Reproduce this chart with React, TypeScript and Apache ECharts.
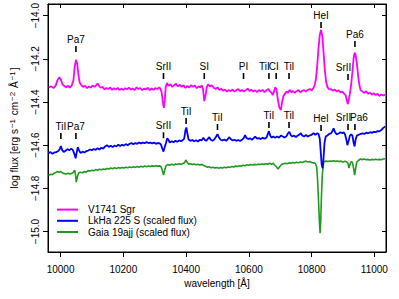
import React, { useEffect, useRef } from "react";
import * as echarts from "echarts";

const xTicks = [10000, 10200, 10400, 10600, 10800, 11000];
const yTicks = [-15.0, -14.8, -14.6, -14.4, -14.2, -14.0];

const seriesNames = ["V1741 Sgr", "LkHa 225 S (scaled flux)", "Gaia 19ajj (scaled flux)"];

const v1741: [number, number][] = [
  [9962, -14.332], [9970, -14.328], [9978, -14.335], [9985, -14.322], [9990, -14.300], [9996, -14.285],
  [10001, -14.296], [10006, -14.318], [10012, -14.326], [10018, -14.332], [10024, -14.325], [10030, -14.334],
  [10036, -14.322], [10041, -14.300], [10045, -14.240], [10049, -14.205], [10053, -14.222], [10057, -14.275],
  [10061, -14.310], [10066, -14.322], [10072, -14.330], [10078, -14.325], [10084, -14.336], [10090, -14.328],
  [10096, -14.333], [10102, -14.324], [10108, -14.330], [10114, -14.322], [10118, -14.314], [10122, -14.324],
  [10128, -14.334], [10134, -14.330], [10140, -14.342], [10146, -14.335], [10152, -14.340], [10158, -14.333],
  [10164, -14.344], [10170, -14.336], [10176, -14.342], [10182, -14.335], [10188, -14.345], [10194, -14.338],
  [10200, -14.344], [10206, -14.336], [10212, -14.341], [10218, -14.334], [10224, -14.343], [10230, -14.337],
  [10236, -14.345], [10242, -14.332], [10248, -14.340], [10254, -14.336], [10260, -14.345], [10266, -14.338],
  [10272, -14.342], [10278, -14.334], [10284, -14.346], [10290, -14.337], [10296, -14.343], [10302, -14.336],
  [10308, -14.340], [10314, -14.332], [10318, -14.338], [10322, -14.355], [10326, -14.400], [10329, -14.427],
  [10332, -14.395], [10335, -14.330], [10339, -14.312], [10344, -14.325], [10350, -14.318], [10356, -14.330],
  [10362, -14.322], [10368, -14.316], [10374, -14.328], [10380, -14.320], [10386, -14.330], [10392, -14.322],
  [10398, -14.335], [10404, -14.326], [10410, -14.333], [10416, -14.322], [10422, -14.330], [10428, -14.324],
  [10434, -14.336], [10440, -14.328], [10446, -14.332], [10450, -14.322], [10454, -14.340], [10458, -14.396],
  [10462, -14.370], [10466, -14.330], [10470, -14.318], [10476, -14.328], [10482, -14.322], [10488, -14.334],
  [10494, -14.340], [10500, -14.332], [10506, -14.345], [10512, -14.338], [10518, -14.348], [10524, -14.342],
  [10530, -14.352], [10536, -14.344], [10542, -14.350], [10548, -14.342], [10554, -14.352], [10560, -14.346],
  [10566, -14.340], [10572, -14.350], [10578, -14.344], [10584, -14.352], [10590, -14.345], [10596, -14.338],
  [10602, -14.349], [10608, -14.343], [10614, -14.352], [10620, -14.346], [10626, -14.354], [10632, -14.345],
  [10638, -14.350], [10644, -14.344], [10650, -14.354], [10656, -14.346], [10662, -14.340], [10668, -14.352],
  [10672, -14.356], [10676, -14.368], [10680, -14.352], [10684, -14.332], [10688, -14.342], [10692, -14.385],
  [10697, -14.425], [10702, -14.437], [10706, -14.400], [10710, -14.372], [10716, -14.360], [10720, -14.352],
  [10724, -14.358], [10728, -14.348], [10732, -14.345], [10736, -14.356], [10740, -14.349], [10746, -14.358],
  [10752, -14.350], [10758, -14.345], [10764, -14.355], [10770, -14.348], [10776, -14.345], [10782, -14.352],
  [10788, -14.344], [10794, -14.340], [10800, -14.346], [10806, -14.335], [10810, -14.320], [10814, -14.290],
  [10818, -14.230], [10822, -14.150], [10826, -14.090], [10830, -14.066], [10834, -14.095], [10838, -14.170],
  [10842, -14.250], [10846, -14.305], [10850, -14.330], [10856, -14.342], [10862, -14.340], [10868, -14.348],
  [10874, -14.342], [10880, -14.352], [10886, -14.346], [10892, -14.355], [10898, -14.352], [10904, -14.362],
  [10908, -14.368], [10912, -14.390], [10915, -14.410], [10918, -14.395], [10922, -14.360], [10926, -14.320],
  [10930, -14.260], [10934, -14.195], [10937, -14.172], [10940, -14.180], [10944, -14.220], [10948, -14.275],
  [10952, -14.320], [10956, -14.345], [10962, -14.352], [10968, -14.358], [10974, -14.350], [10980, -14.362],
  [10986, -14.356], [10992, -14.366], [10998, -14.360], [11004, -14.368], [11010, -14.362], [11016, -14.372],
  [11022, -14.365], [11028, -14.370], [11035, -14.366],
];

const lkha: [number, number][] = [
  [9962, -14.638], [9968, -14.632], [9974, -14.640], [9980, -14.634], [9986, -14.632], [9992, -14.628],
  [9997, -14.620], [10001, -14.604], [10005, -14.622], [10010, -14.632], [10016, -14.626], [10022, -14.618],
  [10028, -14.624], [10034, -14.616], [10039, -14.622], [10044, -14.640], [10048, -14.661], [10052, -14.630],
  [10055, -14.609], [10059, -14.625], [10064, -14.636], [10070, -14.630], [10076, -14.634], [10082, -14.628],
  [10088, -14.625], [10094, -14.620], [10100, -14.623], [10106, -14.618], [10112, -14.622], [10118, -14.614],
  [10124, -14.620], [10130, -14.612], [10136, -14.616], [10142, -14.606], [10148, -14.600], [10154, -14.608],
  [10160, -14.603], [10166, -14.609], [10172, -14.602], [10178, -14.606], [10184, -14.598], [10190, -14.604],
  [10196, -14.598], [10202, -14.602], [10208, -14.595], [10214, -14.600], [10220, -14.594], [10226, -14.590],
  [10232, -14.596], [10238, -14.590], [10244, -14.594], [10250, -14.588], [10256, -14.592], [10262, -14.588],
  [10268, -14.591], [10274, -14.586], [10280, -14.590], [10286, -14.588], [10292, -14.592], [10298, -14.588],
  [10304, -14.594], [10310, -14.590], [10316, -14.592], [10320, -14.598], [10324, -14.615], [10328, -14.630],
  [10332, -14.608], [10336, -14.590], [10340, -14.568], [10344, -14.575], [10348, -14.588], [10354, -14.582],
  [10360, -14.586], [10366, -14.580], [10372, -14.584], [10378, -14.578], [10384, -14.582], [10390, -14.576],
  [10394, -14.570], [10398, -14.530], [10401, -14.518], [10404, -14.545], [10408, -14.574], [10414, -14.580],
  [10420, -14.576], [10426, -14.582], [10432, -14.577], [10438, -14.583], [10444, -14.575], [10450, -14.578],
  [10455, -14.565], [10459, -14.575], [10464, -14.580], [10470, -14.570], [10474, -14.563], [10478, -14.574],
  [10484, -14.580], [10490, -14.573], [10496, -14.560], [10500, -14.549], [10504, -14.562], [10510, -14.575],
  [10516, -14.578], [10522, -14.574], [10528, -14.580], [10534, -14.570], [10538, -14.563], [10542, -14.572],
  [10548, -14.578], [10554, -14.575], [10560, -14.580], [10566, -14.576], [10572, -14.581], [10578, -14.575],
  [10584, -14.566], [10588, -14.553], [10592, -14.566], [10598, -14.572], [10604, -14.568], [10610, -14.575],
  [10616, -14.566], [10620, -14.560], [10626, -14.570], [10632, -14.567], [10638, -14.572], [10644, -14.566],
  [10650, -14.570], [10656, -14.565], [10660, -14.550], [10664, -14.535], [10668, -14.555], [10672, -14.565],
  [10678, -14.560], [10684, -14.566], [10690, -14.560], [10696, -14.565], [10702, -14.556], [10708, -14.560],
  [10714, -14.565], [10720, -14.558], [10725, -14.545], [10729, -14.538], [10733, -14.552], [10738, -14.560],
  [10744, -14.556], [10750, -14.562], [10756, -14.555], [10762, -14.550], [10766, -14.545], [10770, -14.555],
  [10776, -14.560], [10782, -14.553], [10788, -14.560], [10794, -14.555], [10800, -14.552], [10806, -14.545],
  [10812, -14.552], [10818, -14.545], [10822, -14.548], [10826, -14.570], [10829, -14.630], [10832, -14.690],
  [10835, -14.707], [10838, -14.660], [10841, -14.590], [10845, -14.560], [10850, -14.555], [10856, -14.548],
  [10862, -14.545], [10866, -14.536], [10870, -14.522], [10874, -14.538], [10880, -14.550], [10886, -14.546],
  [10892, -14.540], [10898, -14.545], [10902, -14.540], [10906, -14.548], [10910, -14.570], [10914, -14.600],
  [10918, -14.580], [10922, -14.556], [10926, -14.550], [10930, -14.556], [10934, -14.590], [10937, -14.606],
  [10940, -14.575], [10944, -14.556], [10950, -14.552], [10956, -14.548], [10962, -14.545], [10968, -14.548],
  [10974, -14.542], [10980, -14.545], [10986, -14.540], [10992, -14.543], [10998, -14.538], [11004, -14.540],
  [11010, -14.535], [11016, -14.536], [11022, -14.530], [11028, -14.520], [11035, -14.513],
];

const gaia: [number, number][] = [
  [9962, -14.739], [9968, -14.735], [9974, -14.737], [9980, -14.730], [9986, -14.726], [9990, -14.722],
  [9995, -14.725], [10000, -14.722], [10006, -14.728], [10012, -14.732], [10018, -14.734], [10024, -14.730],
  [10030, -14.734], [10036, -14.730], [10041, -14.725], [10045, -14.716], [10048, -14.740], [10050, -14.771],
  [10054, -14.745], [10058, -14.728], [10064, -14.725], [10070, -14.728], [10076, -14.722], [10082, -14.725],
  [10088, -14.718], [10094, -14.720], [10100, -14.716], [10106, -14.719], [10112, -14.713], [10118, -14.716],
  [10124, -14.712], [10130, -14.714], [10136, -14.710], [10142, -14.713], [10148, -14.708], [10154, -14.711],
  [10160, -14.706], [10166, -14.709], [10172, -14.705], [10178, -14.708], [10184, -14.704], [10190, -14.707],
  [10196, -14.703], [10202, -14.706], [10208, -14.702], [10214, -14.705], [10220, -14.701], [10226, -14.704],
  [10232, -14.700], [10238, -14.703], [10244, -14.699], [10250, -14.702], [10256, -14.698], [10262, -14.701],
  [10268, -14.697], [10274, -14.700], [10280, -14.697], [10286, -14.699], [10292, -14.696], [10298, -14.698],
  [10304, -14.695], [10310, -14.697], [10316, -14.696], [10320, -14.700], [10324, -14.715], [10328, -14.739],
  [10332, -14.715], [10336, -14.695], [10342, -14.690], [10348, -14.693], [10354, -14.688], [10360, -14.692],
  [10366, -14.687], [10372, -14.690], [10378, -14.686], [10384, -14.689], [10390, -14.685], [10395, -14.682],
  [10399, -14.669], [10403, -14.678], [10408, -14.688], [10414, -14.686], [10420, -14.690], [10426, -14.687],
  [10432, -14.691], [10438, -14.688], [10444, -14.692], [10450, -14.689], [10456, -14.694], [10462, -14.698],
  [10468, -14.702], [10474, -14.700], [10480, -14.705], [10486, -14.702], [10492, -14.706], [10498, -14.703],
  [10504, -14.707], [10510, -14.704], [10516, -14.706], [10522, -14.702], [10528, -14.705], [10534, -14.701],
  [10540, -14.703], [10546, -14.699], [10552, -14.701], [10558, -14.697], [10564, -14.699], [10570, -14.695],
  [10576, -14.697], [10582, -14.693], [10588, -14.695], [10594, -14.691], [10600, -14.693], [10606, -14.690],
  [10612, -14.692], [10618, -14.689], [10624, -14.691], [10630, -14.688], [10636, -14.690], [10642, -14.687],
  [10648, -14.689], [10654, -14.686], [10660, -14.688], [10666, -14.684], [10672, -14.688], [10678, -14.684],
  [10682, -14.692], [10688, -14.700], [10693, -14.711], [10698, -14.700], [10704, -14.690], [10710, -14.686],
  [10716, -14.684], [10722, -14.686], [10728, -14.682], [10734, -14.684], [10740, -14.680], [10746, -14.683],
  [10752, -14.679], [10758, -14.682], [10764, -14.678], [10770, -14.680], [10776, -14.677], [10782, -14.674],
  [10788, -14.678], [10794, -14.676], [10800, -14.680], [10806, -14.682], [10812, -14.685], [10816, -14.700],
  [10819, -14.760], [10822, -14.860], [10825, -14.960], [10827, -15.008], [10829, -14.950], [10831, -14.850],
  [10834, -14.740], [10837, -14.690], [10840, -14.676], [10846, -14.674], [10852, -14.676], [10858, -14.673],
  [10864, -14.675], [10870, -14.672], [10876, -14.675], [10882, -14.673], [10888, -14.676], [10894, -14.674],
  [10900, -14.678], [10906, -14.675], [10912, -14.678], [10916, -14.685], [10919, -14.706], [10922, -14.690],
  [10926, -14.676], [10930, -14.680], [10934, -14.710], [10937, -14.739], [10940, -14.710], [10944, -14.678],
  [10950, -14.670], [10956, -14.664], [10962, -14.667], [10968, -14.664], [10974, -14.668], [10980, -14.666],
  [10986, -14.669], [10992, -14.666], [10998, -14.668], [11004, -14.665], [11010, -14.668], [11016, -14.666],
  [11022, -14.668], [11028, -14.664], [11035, -14.663],
];

// line identifications: [label, wavelength, tick-top log flux]
const upperLines: [string, number, number][] = [
  ["Pa7", 10049, -14.141], ["SrII", 10328, -14.266], ["SI", 10458, -14.266], ["PI", 10583, -14.266],
  ["TiI", 10664, -14.266], ["CI", 10687, -14.266], ["TiI", 10728, -14.266], ["HeI", 10830, -14.029],
  ["SrII", 10916, -14.270], ["Pa6", 10938, -14.117],
];
const lowerLines: [string, number, number][] = [
  ["TiI", 10001, -14.544], ["Pa7", 10049, -14.544], ["SrII", 10328, -14.540], ["TiI", 10400, -14.474],
  ["TiI", 10500, -14.502], ["TiI", 10664, -14.493], ["TiI", 10728, -14.493], ["HeI", 10830, -14.507],
  ["SrII", 10916, -14.502], ["Pa6", 10938, -14.502],
];
const upperShift = [0, 0, 0, 0, -4.5, -2.3, 0, 0, -4.5, 0];
const lowerShift = [0, 0, 0, 0, 0, 0, 0, 0, -4.5, 4];

const FONT = '"Liberation Sans", Arial, Helvetica, sans-serif';
const colors = ["#FF00FF", "#0000FF", "#1E9A1E"];

function annotSeries(lines: [string, number, number][], shift: number[]) {
  return {
    type: "custom",
    silent: true,
    z: 10,
    data: lines.map((l) => [l[1], l[2]]),
    renderItem: (params: any, api: any) => {
      const p = api.coord([api.value(0), api.value(1)]);
      const idx = params.dataIndex;
      return {
        type: "group",
        children: [
          {
            type: "line",
            shape: { x1: p[0], y1: p[1], x2: p[0], y2: p[1] + 6 },
            style: { stroke: "#000", lineWidth: 1.6 },
          },
          {
            type: "text",
            x: p[0] + shift[idx],
            y: p[1] - 1.5,
            style: {
              text: lines[idx][0],
              fill: "#000",
              fontSize: 10,
              fontFamily: FONT,
              align: "center",
              verticalAlign: "bottom",
            },
          },
        ],
      };
    },
  };
}

export default function App() {
  const ref = useRef<HTMLDivElement>(null);
  useEffect(() => {
    if (!ref.current) return;
    const chart = echarts.init(ref.current, null, { renderer: "svg" });
    const xMin = 9960, xMax = 11037, yMin = -15.095, yMax = -13.946;
    const fmtY = (v: number) => v.toFixed(1).replace("-", "\u2212");
    chart.setOption({
      animation: false,
      backgroundColor: "#fff",
      textStyle: { fontFamily: FONT },
      grid: { left: 46, right: 13, top: 4, bottom: 47, show: true, borderColor: "#000", borderWidth: 1 },
      legend: {
        data: seriesNames,
        orient: "vertical",
        left: 56,
        top: 204,
        padding: 0,
        itemWidth: 21,
        itemHeight: 14,
        itemGap: 0,
        itemStyle: { opacity: 0, borderWidth: 0 },
        lineStyle: { width: 2 },
        textStyle: { fontSize: 10, color: "#000", fontFamily: FONT, padding: [0, 0, 0, 5] },
      },
      xAxis: [
        {
          type: "value", min: xMin, max: xMax, position: "bottom",
          axisLine: { show: true, lineStyle: { color: "#000", width: 1 } },
          axisTick: { show: true, inside: false, length: 5, customValues: xTicks, lineStyle: { color: "#000" } },
          axisLabel: { show: true, customValues: xTicks, fontSize: 10, color: "#000", margin: 12, fontFamily: FONT, formatter: (v: number) => String(v) },
          splitLine: { show: false },
          name: "wavelength [Å]", nameLocation: "middle", nameGap: 26,
          nameTextStyle: { fontSize: 10, color: "#000", fontFamily: FONT },
        },
        {
          type: "value", min: xMin, max: xMax, position: "top",
          axisLine: { show: true, lineStyle: { color: "#000", width: 1 } },
          axisTick: { show: true, inside: true, length: 4, customValues: xTicks, lineStyle: { color: "#000" } },
          axisLabel: { show: false },
          splitLine: { show: false },
        },
      ],
      yAxis: [
        {
          type: "value", min: yMin, max: yMax, position: "left",
          axisLine: { show: true, lineStyle: { color: "#000", width: 1 } },
          axisTick: { show: true, inside: false, length: 5, customValues: yTicks, lineStyle: { color: "#000" } },
          axisLabel: { show: true, customValues: yTicks, rotate: 90, fontSize: 10, color: "#000", margin: 8, fontFamily: FONT, formatter: fmtY },
          splitLine: { show: false },
          name: "log flux [erg s{s|\u22121} cm{s|\u22122} Å{s|\u22121}]",
          nameLocation: "middle", nameGap: 28,
          nameTextStyle: {
            fontSize: 10, color: "#000", fontFamily: FONT,
            rich: { s: { fontSize: 8, fontFamily: FONT, color: "#000", verticalAlign: "top", padding: [0, 1, 4, 1] } },
          },
        },
        {
          type: "value", min: yMin, max: yMax, position: "right",
          axisLine: { show: true, lineStyle: { color: "#000", width: 1 } },
          axisTick: { show: true, inside: true, length: 4, customValues: yTicks, lineStyle: { color: "#000" } },
          axisLabel: { show: false },
          splitLine: { show: false },
        },
      ],
      series: [
        { name: seriesNames[0], type: "line", data: v1741, symbol: "none", lineStyle: { color: colors[0], width: 1.8 }, itemStyle: { color: colors[0] }, z: 3 },
        { name: seriesNames[1], type: "line", data: lkha, symbol: "none", lineStyle: { color: colors[1], width: 1.8 }, itemStyle: { color: colors[1] }, z: 4 },
        { name: seriesNames[2], type: "line", data: gaia, symbol: "none", lineStyle: { color: colors[2], width: 1.6 }, itemStyle: { color: colors[2] }, z: 2 },
        annotSeries(upperLines, upperShift),
        annotSeries(lowerLines, lowerShift),
      ],
    });
    return () => chart.dispose();
  }, []);
  return <div ref={ref} style={{ position: "fixed", left: 0, top: 0, width: 399, height: 299 }} />;
}
